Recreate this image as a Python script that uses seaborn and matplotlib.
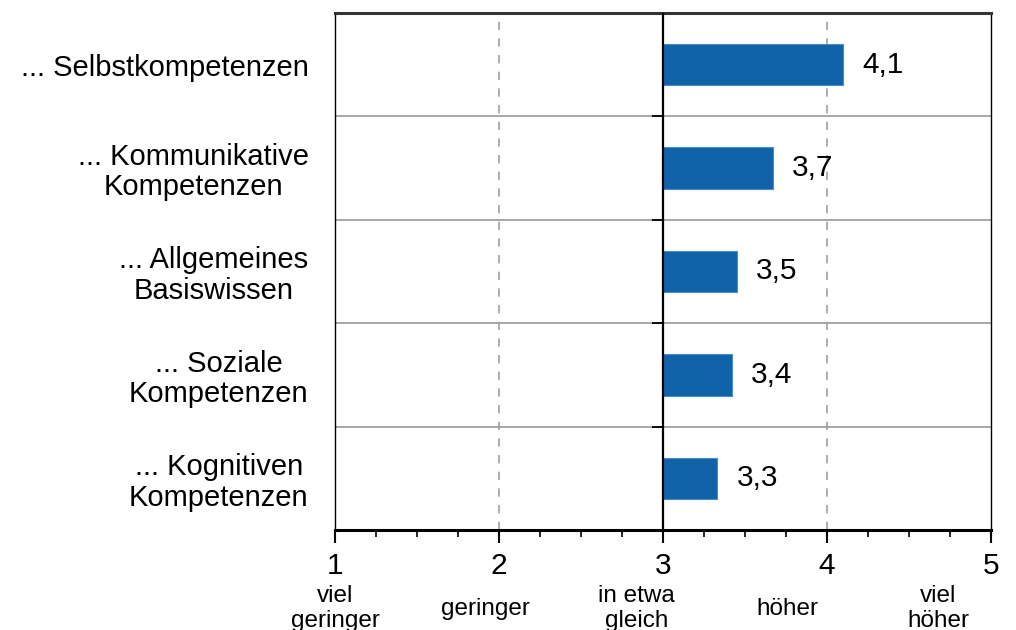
import matplotlib
matplotlib.use("Agg")
import matplotlib.pyplot as plt
import matplotlib.transforms as mtransforms
from matplotlib.ticker import MultipleLocator
import seaborn as sns
import pandas as pd

# data
categories = ["... Selbstkompetenzen",
              "... Kommunikative\nKompetenzen",
              "... Allgemeines\nBasiswissen",
              "... Soziale\nKompetenzen",
              "... Kognitiven\nKompetenzen"]
values = [4.10, 3.67, 3.45, 3.42, 3.33]
value_labels = ["4,1", "3,7", "3,5", "3,4", "3,3"]
scale_ticks = [1, 2, 3, 4, 5]
scale_words = ["viel\ngeringer", "geringer", "in etwa\ngleich", "höher", "viel\nhöher"]
scale_word_pos = [1.0, 1.92, 2.84, 3.76, 4.68]
midpoint = 3

df = pd.DataFrame({"Kategorie": categories, "Wert": values})

sns.set_style("white")
plt.rcParams["font.family"] = ["Liberation Sans", "DejaVu Sans"]
plt.rcParams["text.color"] = "black"
plt.rcParams["xtick.color"] = "black"
plt.rcParams["ytick.color"] = "black"

fig = plt.figure(figsize=(10.16, 6.3), dpi=100)
ax = fig.add_axes([0.3297, 0.1587, 0.6457, 0.8207])

sns.barplot(data=df, x="Wert", y="Kategorie", orient="h", color="#1063a9",
            width=0.4, edgecolor="#4a8cc8", linewidth=0.8, saturation=1, ax=ax)

# bars start at the scale midpoint (3), not at 0
for patch, v in zip(ax.patches, values):
    patch.set_x(midpoint)
    patch.set_width(v - midpoint)

for patch, lab in zip(ax.patches, value_labels):
    ax.annotate(lab, (patch.get_x() + patch.get_width(), patch.get_y() + patch.get_height() / 2),
                xytext=(14, 0), textcoords="offset points", va="center", ha="left",
                fontsize=21.5, color="black")

ax.set_xlim(1, 5)
ax.set_ylim(len(categories) - 0.5, -0.5)

# row separators and reference lines
seps = [i + 0.5 for i in range(len(categories) - 1)]
for s in seps:
    ax.axhline(s, color="#a0a0a0", lw=1.3, zorder=0)
for x in [2, 4]:
    ax.axvline(x, color="#a0a0a0", lw=1.2, ls=(0, (5, 5)), zorder=0)
ax.axvline(midpoint, color="black", lw=1.6, zorder=3)
ax.plot([midpoint] * len(seps), seps, ls="none", marker=0, markersize=8,
        markeredgewidth=1.3, color="black", zorder=3)

# x axis
ax.set_xticks(scale_ticks)
ax.set_xticklabels([str(t) for t in scale_ticks], fontsize=21.5)
ax.xaxis.set_minor_locator(MultipleLocator(0.25))
ax.tick_params(axis="x", which="major", direction="out", length=9, width=1.5,
               color="black", labelcolor="black", bottom=True, pad=7)
ax.tick_params(axis="x", which="minor", direction="out", length=5, width=1.2,
               color="black", bottom=True)

# y axis
ax.tick_params(axis="y", length=0, pad=19, labelcolor="black")
for lab in ax.get_yticklabels():
    lab.set_fontsize(21)
    lab.set_multialignment("center")
    lab.set_linespacing(1.1)

ax.set_xlabel("")
ax.set_ylabel("")

for side in ["left", "right"]:
    ax.spines[side].set_color("black")
    ax.spines[side].set_linewidth(1.0)
ax.spines["top"].set_color("#333333")
ax.spines["top"].set_linewidth(2.2)
ax.spines["bottom"].set_color("black")
ax.spines["bottom"].set_linewidth(2.2)

# verbal anchors under the scale
trans = mtransforms.blended_transform_factory(ax.transData, fig.transFigure)
for pos, word in zip(scale_word_pos, scale_words):
    ax.text(pos, 0.034, word, transform=trans, ha="center", va="center",
            fontsize=17.5, linespacing=1.22, clip_on=False, color="black")

fig.savefig("out.png", dpi=100)
